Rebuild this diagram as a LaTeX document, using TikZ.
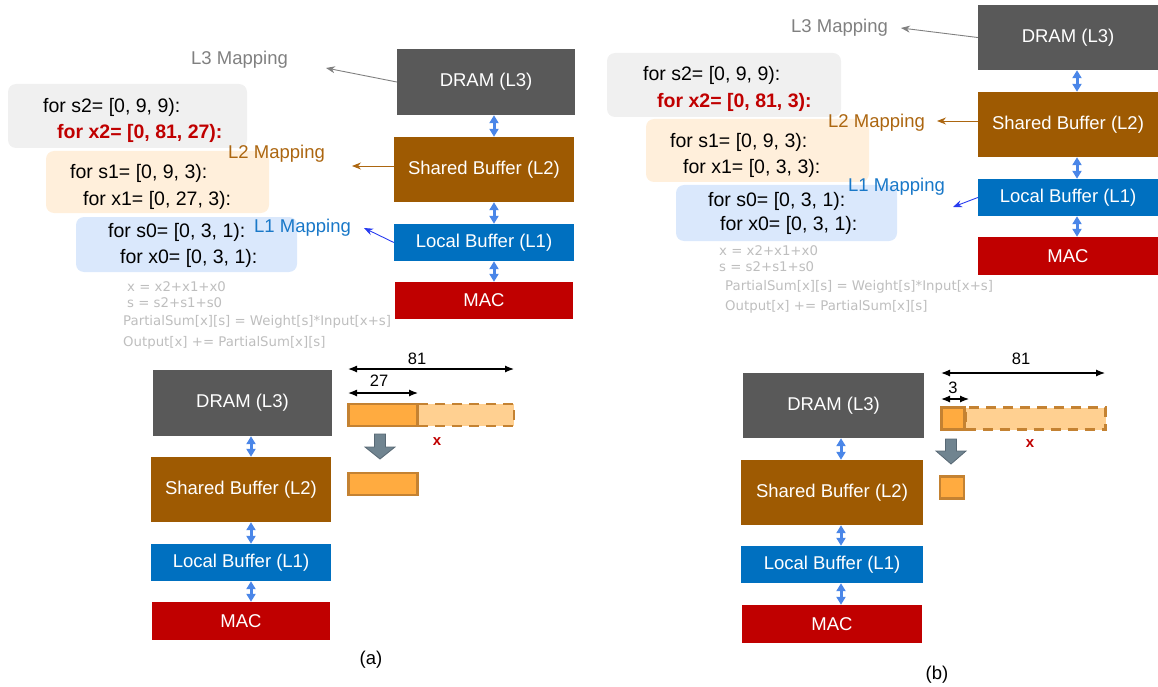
\documentclass[tikz,border=0pt]{standalone}
\usepackage{fontspec}
\setmainfont{Liberation Sans}
\newfontfamily\formulafont{DejaVu Sans}
\usetikzlibrary{arrows.meta}

\definecolor{dramgray}{RGB}{89,89,89}
\definecolor{sharedbrown}{RGB}{158,90,2}
\definecolor{localblue}{RGB}{0,112,192}
\definecolor{macred}{RGB}{192,0,0}
\definecolor{linkblue}{RGB}{74,134,232}
\definecolor{mapgray}{RGB}{128,128,128}
\definecolor{mapbrown}{RGB}{172,102,16}
\definecolor{mapblue}{RGB}{25,120,200}
\definecolor{arrowblue}{RGB}{40,60,240}
\definecolor{codegray}{RGB}{240,240,240}
\definecolor{codepeach}{RGB}{255,239,219}
\definecolor{codeblue}{RGB}{218,232,252}
\definecolor{formulagray}{RGB}{190,190,190}
\definecolor{tileorange}{RGB}{255,171,64}
\definecolor{tilelight}{RGB}{255,208,145}
\definecolor{tileedge}{RGB}{196,130,50}
\definecolor{movegray}{RGB}{112,132,144}
\definecolor{moveedge}{RGB}{88,104,116}

\tikzset{
  mem/.style={draw=none, text=white, inner sep=0pt,
    font=\fontsize{18.5}{20}\selectfont},
  link/.style={{Triangle[length=8pt,width=9pt]}-{Triangle[length=8pt,width=9pt]},
    line width=3pt, draw=linkblue},
  maplabel/.style={anchor=west, inner sep=0pt, font=\fontsize{18.5}{20}\selectfont},
  maparrow/.style={-{Stealth[length=9pt,width=7pt]}, line width=0.9pt},
  code/.style={anchor=west, inner sep=0pt, font=\fontsize{19.5}{22}\selectfont},
  hotcode/.style={code, text=macred, font=\fontsize{19.5}{22}\selectfont\bfseries},
  codebox/.style={rounded corners=8pt},
  formula/.style={anchor=west, inner sep=0pt, text=formulagray,
    font=\formulafont\fontsize{13.3}{15}\selectfont},
  dimline/.style={{Latex[length=9pt,width=7pt]}-{Latex[length=9pt,width=7pt]},
    line width=1.2pt},
  dimlabel/.style={inner sep=0pt, font=\fontsize{16.5}{18}\selectfont},
  tile/.style={fill=tileorange, draw=tileedge, line width=2.8pt, inner sep=0pt},
  tilerest/.style={fill=tilelight, draw=tileedge, line width=2.8pt, inner sep=0pt,
    dash pattern=on 10pt off 7pt},
  axislabel/.style={inner sep=0pt, text=macred, font=\fontsize{15}{16}\selectfont\bfseries},
  move/.style={fill=movegray, draw=moveedge, line width=0.8pt, line join=miter},
  caption/.style={inner sep=0pt, font=\fontsize{18.5}{20}\selectfont}
}

% downward block arrow: centre x, top y, neck y, tip y
\newcommand\movearrow[4]{%
  \path[move] (#1-5.5,#2) -- (#1+5.5,#2) -- (#1+5.5,#3) -- (#1+15,#3) -- (#1,#4)
    -- (#1-15,#3) -- (#1-5.5,#3) -- cycle;}

\begin{document}
\begin{tikzpicture}[x=1pt,y=-1pt]
\useasboundingbox (0,0) rectangle (1158,687);

%================ (a) loop nest and hierarchy ================
\fill[codegray, codebox] (8,84) rectangle (247,148);
\fill[codepeach, codebox] (46,151) rectangle (269,213);
\fill[codeblue, codebox] (76,217) rectangle (297,272);

\node[code] (s2A) at (43,107) {for s2= [0, 9, 9):};
\node[hotcode] (x2A) at (57,133) {for x2= [0, 81, 27):};
\node[code] (s1A) at (70,173) {for s1= [0, 9, 3):};
\node[code] (x1A) at (83,200) {for x1= [0, 27, 3):};
\node[code] (s0A) at (108,232) {for s0= [0, 3, 1):};
\node[code] (x0A) at (120,258) {for x0= [0, 3, 1):};

\node[formula] (fxA) at (127,287) {x = x2+x1+x0};
\node[formula] (fsA) at (127,303) {s = s2+s1+s0};
\node[formula] (fpA) at (123,322) {PartialSum[x][s] = Weight[s]*Input[x+s]};
\node[formula] (foA) at (123,343) {Output[x] += PartialSum[x][s]};

\node[mem, fill=dramgray, minimum width=178pt, minimum height=66pt] (dramA) at (486,82) {DRAM (L3)};
\node[mem, fill=sharedbrown, minimum width=180pt, minimum height=65pt] (sharedA) at (484,169.5) {Shared Buffer (L2)};
\node[mem, fill=localblue, minimum width=180pt, minimum height=37pt] (localA) at (484,242.5) {Local Buffer (L1)};
\node[mem, fill=macred, minimum width=178pt, minimum height=37pt] (macA) at (484,300.5) {MAC};

\draw[link] ([xshift=10pt]sharedA.north |- dramA.south) -- ([xshift=10pt]sharedA.north);
\draw[link] ([xshift=10pt]sharedA.south) -- ([xshift=10pt]localA.north);
\draw[link] ([xshift=10pt]localA.south) -- ([xshift=10pt]macA.north);

\node[maplabel, text=mapgray] (l3A) at (191,60) {L3 Mapping};
\node[maplabel, text=mapbrown] (l2A) at (228,154) {L2 Mapping};
\node[maplabel, text=mapblue] (l1A) at (254,228) {L1 Mapping};
\coordinate (l3tipA) at (326,68);
\coordinate (l2tipA) at (352,166);
\coordinate (l1tipA) at (364,228);
\draw[maparrow, draw=mapgray] (dramA.west) -- (l3tipA);
\draw[maparrow, draw=mapbrown] ([yshift=3.5pt]sharedA.west) -- (l2tipA);
\draw[maparrow, draw=arrowblue] (localA.west) -- (l1tipA);

%================ (b) loop nest and hierarchy ================
\fill[codegray, codebox] (607,53) rectangle (841,117);
\fill[codepeach, codebox] (646,119) rectangle (869,182);
\fill[codeblue, codebox] (676,185) rectangle (897,241);

\node[code] (s2B) at (643,75) {for s2= [0, 9, 9):};
\node[hotcode] (x2B) at (657,102) {for x2= [0, 81, 3):};
\node[code] (s1B) at (670,142) {for s1= [0, 9, 3):};
\node[code] (x1B) at (683,168) {for x1= [0, 3, 3):};
\node[code] (s0B) at (708,201) {for s0= [0, 3, 1):};
\node[code] (x0B) at (720,225) {for x0= [0, 3, 1):};

\node[formula] (fxB) at (719,251) {x = x2+x1+x0};
\node[formula] (fsB) at (719,267) {s = s2+s1+s0};
\node[formula] (fpB) at (725,287) {PartialSum[x][s] = Weight[s]*Input[x+s]};
\node[formula] (foB) at (725,307) {Output[x] += PartialSum[x][s]};

\node[mem, fill=dramgray, minimum width=180pt, minimum height=65pt] (dramB) at (1068,37.5) {DRAM (L3)};
\node[mem, fill=sharedbrown, minimum width=180pt, minimum height=65pt] (sharedB) at (1068,124.5) {Shared Buffer (L2)};
\node[mem, fill=localblue, minimum width=180pt, minimum height=37pt] (localB) at (1068,197.5) {Local Buffer (L1)};
\node[mem, fill=macred, minimum width=180pt, minimum height=38pt] (macB) at (1068,256) {MAC};

\draw[link] ([xshift=9pt]dramB.south) -- ([xshift=9pt]sharedB.north);
\draw[link] ([xshift=9pt]sharedB.south) -- ([xshift=9pt]localB.north);
\draw[link] ([xshift=9pt]localB.south) -- ([xshift=9pt]macB.north);

\node[maplabel, text=mapgray] (l3B) at (791,28) {L3 Mapping};
\node[maplabel, text=mapbrown] (l2B) at (828,123) {L2 Mapping};
\node[maplabel, text=mapblue] (l1B) at (848,187) {L1 Mapping};
\coordinate (l3tipB) at (901,28);
\coordinate (l2tipB) at (937,121);
\coordinate (l1tipB) at (953,207);
\draw[maparrow, draw=mapgray] (dramB.west) -- (l3tipB);
\draw[maparrow, draw=mapbrown] ([yshift=3.5pt]sharedB.west) -- (l2tipB);
\draw[maparrow, draw=arrowblue] (localB.west) -- (l1tipB);

%================ (a) tiling of x ================
\node[mem, fill=dramgray, minimum width=179pt, minimum height=66pt] (dramC) at (242.5,403) {DRAM (L3)};
\node[mem, fill=sharedbrown, minimum width=180pt, minimum height=65pt] (sharedC) at (241,489.5) {Shared Buffer (L2)};
\node[mem, fill=localblue, minimum width=180pt, minimum height=37pt] (localC) at (241,562.5) {Local Buffer (L1)};
\node[mem, fill=macred, minimum width=178pt, minimum height=38pt] (macC) at (241,621) {MAC};

\draw[link] ([xshift=10pt]sharedC.north |- dramC.south) -- ([xshift=10pt]sharedC.north);
\draw[link] ([xshift=10pt]sharedC.south) -- ([xshift=10pt]localC.north);
\draw[link] ([xshift=10pt]localC.south) -- ([xshift=10pt]macC.north);

\node[tilerest, minimum width=96pt, minimum height=22pt] (restC) at (466,415) {};
\node[tile, minimum width=69pt, minimum height=22pt] (tileC) at (383,415) {};
\node[tile, minimum width=69pt, minimum height=22pt] (copyC) at (383,484) {};

\coordinate (full0C) at (348,369);
\coordinate (full1C) at (514,369);
\draw[dimline] (full0C) -- (full1C);
\node[dimlabel] (fullC) at (417,359) {81};
\coordinate (part0C) at (348,393);
\coordinate (part1C) at (418,393);
\draw[dimline] (part0C) -- (part1C);
\node[dimlabel] (partC) at (379,381) {27};
\node[axislabel] (axisC) at (437,442) {x};
\movearrow{380}{434}{447}{459}

%================ (b) tiling of x ================
\node[mem, fill=dramgray, minimum width=181pt, minimum height=65pt] (dramD) at (833.5,405.5) {DRAM (L3)};
\node[mem, fill=sharedbrown, minimum width=182pt, minimum height=65pt] (sharedD) at (832,492.5) {Shared Buffer (L2)};
\node[mem, fill=localblue, minimum width=182pt, minimum height=37pt] (localD) at (832,564.5) {Local Buffer (L1)};
\node[mem, fill=macred, minimum width=180pt, minimum height=38pt] (macD) at (832,624) {MAC};

\draw[link] ([xshift=9pt]sharedD.north |- dramD.south) -- ([xshift=9pt]sharedD.north);
\draw[link] ([xshift=9pt]sharedD.south) -- ([xshift=9pt]localD.north);
\draw[link] ([xshift=9pt]localD.south) -- ([xshift=9pt]macD.north);

\node[tilerest, minimum width=140pt, minimum height=22pt] (restD) at (1035.5,418.5) {};
\node[tile, minimum width=23pt, minimum height=22pt] (tileD) at (953,418.5) {};
\node[tile, minimum width=24pt, minimum height=22pt] (copyD) at (952,487.5) {};

\coordinate (full0D) at (941,373);
\coordinate (full1D) at (1105,373);
\draw[dimline] (full0D) -- (full1D);
\node[dimlabel] (fullD) at (1021,359) {81};
\coordinate (part0D) at (941,399);
\coordinate (part1D) at (969,399);
\draw[dimline] (part0D) -- (part1D);
\node[dimlabel] (partD) at (953,388) {3};
\node[axislabel] (axisD) at (1030,444) {x};
\movearrow{951}{439}{451}{464}

%================ captions ================
\node[caption] (capA) at (371,660) {(a)};
\node[caption] (capB) at (937,675) {(b)};
\end{tikzpicture}
\end{document}
